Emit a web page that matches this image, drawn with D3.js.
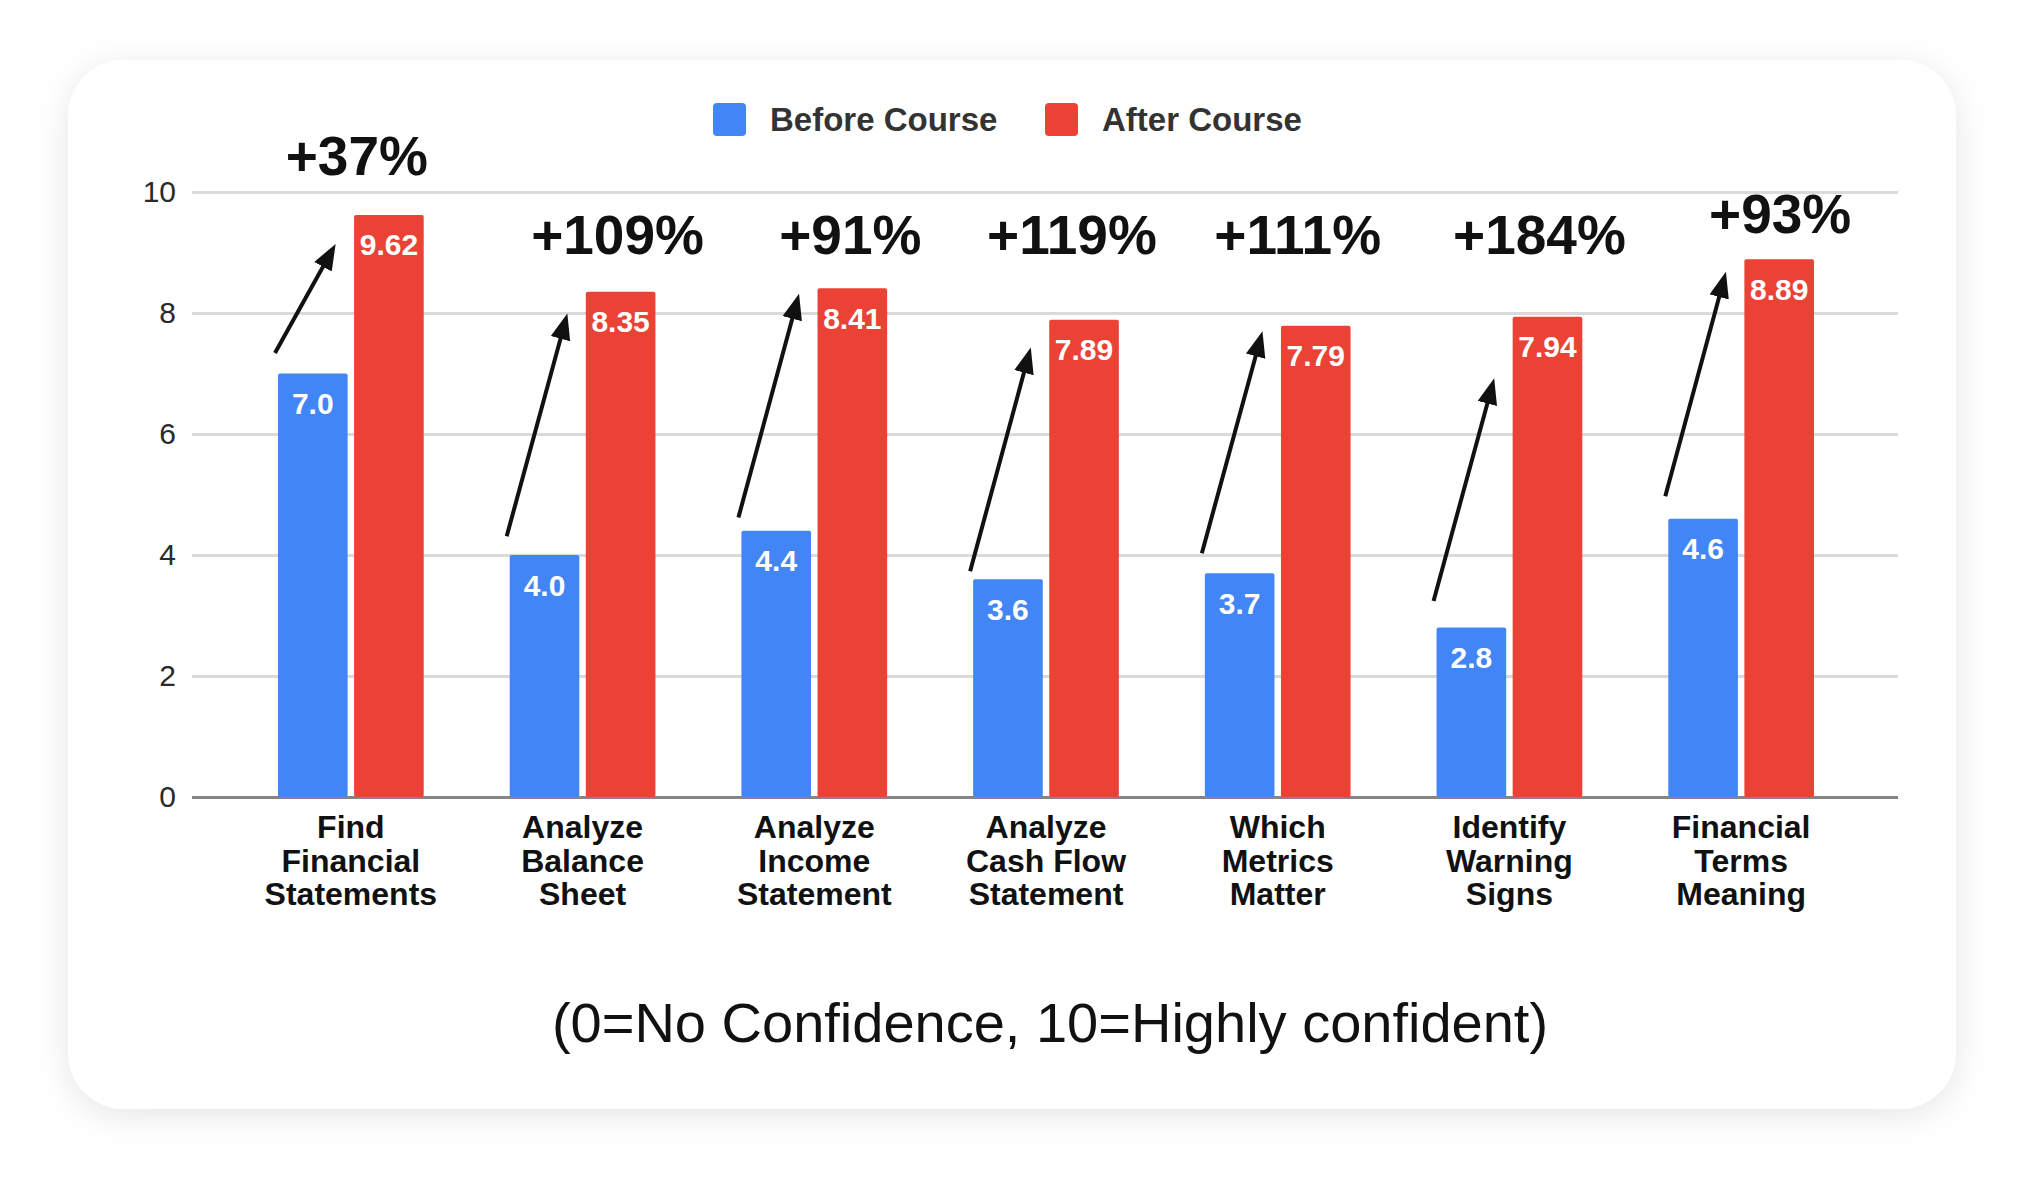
<!DOCTYPE html>
<html>
<head>
<meta charset="utf-8">
<script src="https://cdn.jsdelivr.net/npm/d3@7"></script>
<style>
html, body { margin: 0; padding: 0; background: #fff; }
svg { display: block; font-family: "Liberation Sans", Arial, sans-serif; }
</style>
</head>
<body>
<script>
// data
var categories = [
    ["Find", "Financial", "Statements"],
    ["Analyze", "Balance", "Sheet"],
    ["Analyze", "Income", "Statement"],
    ["Analyze", "Cash Flow", "Statement"],
    ["Which", "Metrics", "Matter"],
    ["Identify", "Warning", "Signs"],
    ["Financial", "Terms", "Meaning"]
];
var beforeCourse = [7.0, 4.0, 4.4, 3.6, 3.7, 2.8, 4.6];
var afterCourse = [9.62, 8.35, 8.41, 7.89, 7.79, 7.94, 8.89];
var beforeLabels = ["7.0", "4.0", "4.4", "3.6", "3.7", "2.8", "4.6"];
var afterLabels = ["9.62", "8.35", "8.41", "7.89", "7.79", "7.94", "8.89"];
var changeLabels = ["+37%", "+109%", "+91%", "+119%", "+111%", "+184%", "+93%"];
var seriesNames = ["Before Course", "After Course"];
var yTicks = [0, 2, 4, 6, 8, 10];
var caption = "(0=No Confidence, 10=Highly confident)";

// hand drawn arrows and change labels, in axis units
var arrowFrom = [7.34, 4.31, 4.62, 3.73, 4.03, 3.24, 4.97];
var arrowTo = [9.14, 7.99, 8.32, 7.43, 7.70, 6.92, 8.68];
var changeAt = [10.59, 9.29, 9.29, 9.29, 9.29, 9.29, 9.64];
var changeDx = [6, 35, 36, 26, 20, 30, 39];

var width = 2024, height = 1186;
var colors = ["#4285f4", "#ea4335"];
var plot = {left: 192, right: 1898};

var svg = d3.select("body").append("svg")
    .attr("width", width)
    .attr("height", height);

// card with soft shadow
var defs = svg.append("defs");
var shadow = defs.append("filter").attr("id", "shadow")
    .attr("x", "-10%").attr("y", "-10%").attr("width", "120%").attr("height", "120%");
shadow.append("feDropShadow")
    .attr("dx", 0).attr("dy", 6).attr("stdDeviation", 16)
    .attr("flood-color", "#000").attr("flood-opacity", 0.10);

defs.append("marker").attr("id", "head")
    .attr("markerUnits", "userSpaceOnUse")
    .attr("markerWidth", 28).attr("markerHeight", 22)
    .attr("refX", 14).attr("refY", 10)
    .attr("orient", "auto")
    .append("path")
    .attr("d", "M0,0 L26,10 L0,20 Z")
    .attr("fill", "#111");

svg.append("rect")
    .attr("x", 68).attr("y", 60)
    .attr("width", 1888).attr("height", 1049)
    .attr("rx", 56)
    .attr("fill", "#fff")
    .attr("filter", "url(#shadow)");

var x0 = d3.scaleBand()
    .domain(d3.range(categories.length))
    .range([235, 1857]);

var x1 = d3.scaleBand()
    .domain([0, 1])
    .range([0, x0.bandwidth()])
    .paddingInner(0.085)
    .paddingOuter(0.565);

var y = d3.scaleLinear().domain([0, 10]).range([797, 192]);

// gridlines
var grid = svg.append("g")
    .attr("transform", "translate(" + plot.left + ",0)")
    .call(d3.axisLeft(y).tickValues(yTicks).tickSize(-(plot.right - plot.left)).tickFormat(""));
grid.select(".domain").remove();
grid.selectAll("line")
    .attr("stroke", function(d) { return d === 0 ? "#858585" : "#dadada"; })
    .attr("stroke-width", 3);

// y labels
var yAxis = svg.append("g")
    .attr("transform", "translate(" + plot.left + ",0)")
    .call(d3.axisLeft(y).tickValues(yTicks).tickSize(0).tickPadding(16));
yAxis.select(".domain").remove();
yAxis.selectAll("text")
    .attr("font-family", "Liberation Sans, Arial, sans-serif")
    .attr("font-size", 30)
    .attr("fill", "#2a2a2a");

// category labels
var xAxis = svg.append("g")
    .attr("transform", "translate(0," + y(0) + ")")
    .call(d3.axisBottom(x0).tickSize(0).tickFormat(""));
xAxis.select(".domain").remove();
xAxis.selectAll(".tick text").remove();
xAxis.selectAll(".tick").append("text")
    .attr("text-anchor", "middle")
    .attr("font-family", "Liberation Sans, Arial, sans-serif")
    .attr("font-size", 32)
    .attr("font-weight", "bold")
    .attr("fill", "#111")
    .selectAll("tspan")
    .data(function(i) { return categories[i]; })
    .enter().append("tspan")
    .attr("x", 0)
    .attr("y", function(d, j) { return 41 + j * 33.5; })
    .text(function(d) { return d; });

// bars
var rows = categories.map(function(c, i) {
    return {i: i, values: [beforeCourse[i], afterCourse[i]], labels: [beforeLabels[i], afterLabels[i]]};
});

var groups = svg.selectAll(".group")
    .data(rows)
    .enter().append("g")
    .attr("class", "group")
    .attr("transform", function(d) { return "translate(" + x0(d.i) + ",0)"; });

groups.selectAll("rect")
    .data(function(d) { return d.values.map(function(v, s) { return {s: s, v: v, label: d.labels[s]}; }); })
    .enter().append("rect")
    .attr("x", function(d) { return x1(d.s); })
    .attr("y", function(d) { return y(d.v); })
    .attr("width", x1.bandwidth())
    .attr("height", function(d) { return y(0) - y(d.v); })
    .attr("rx", 2)
    .attr("fill", function(d) { return colors[d.s]; });

groups.selectAll(".val")
    .data(function(d) { return d.values.map(function(v, s) { return {s: s, v: v, label: d.labels[s]}; }); })
    .enter().append("text")
    .attr("class", "val")
    .attr("x", function(d) { return x1(d.s) + x1.bandwidth() / 2; })
    .attr("y", function(d) { return y(d.v) + 30; })
    .attr("dominant-baseline", "central")
    .attr("text-anchor", "middle")
    .attr("font-size", 30)
    .attr("font-weight", "bold")
    .attr("fill", "#fff")
    .text(function(d) { return d.label; });

// arrows
groups.append("line")
    .each(function(d) {
        var x1s = x1(0) - 3, y1s = y(arrowFrom[d.i]);
        var x2s = x1(0) + x1.bandwidth() - 12, y2s = y(arrowTo[d.i]);
        var len = Math.hypot(x2s - x1s, y2s - y1s);
        var k = (len - 12) / len;
        d3.select(this)
            .attr("x1", x1s).attr("y1", y1s)
            .attr("x2", x1s + (x2s - x1s) * k)
            .attr("y2", y1s + (y2s - y1s) * k);
    })
    .attr("stroke", "#111")
    .attr("stroke-width", 4)
    .attr("marker-end", "url(#head)");

// change labels
groups.append("text")
    .attr("x", function(d) { return x0.bandwidth() / 2 + changeDx[d.i]; })
    .attr("y", function(d) { return y(changeAt[d.i]); })
    .attr("dominant-baseline", "central")
    .attr("text-anchor", "middle")
    .attr("font-size", 55)
    .attr("font-weight", "bold")
    .attr("fill", "#111")
    .text(function(d) { return changeLabels[d.i]; });

// legend
var legendX = [713, 1045];
var legend = svg.selectAll(".legend")
    .data(seriesNames)
    .enter().append("g")
    .attr("class", "legend")
    .attr("transform", function(d, i) { return "translate(" + legendX[i] + ",103)"; });

legend.append("rect")
    .attr("width", 33).attr("height", 33).attr("rx", 4)
    .attr("fill", function(d, i) { return colors[i]; });

legend.append("text")
    .attr("x", 57).attr("y", 16)
    .attr("dominant-baseline", "central")
    .attr("font-size", 33)
    .attr("font-weight", "bold")
    .attr("fill", "#333")
    .text(function(d) { return d; });

// caption
svg.append("text")
    .attr("x", 1050)
    .attr("y", 1022)
    .attr("dominant-baseline", "central")
    .attr("text-anchor", "middle")
    .attr("font-size", 56)
    .attr("fill", "#111")
    .text(caption);
</script>
</body>
</html>
